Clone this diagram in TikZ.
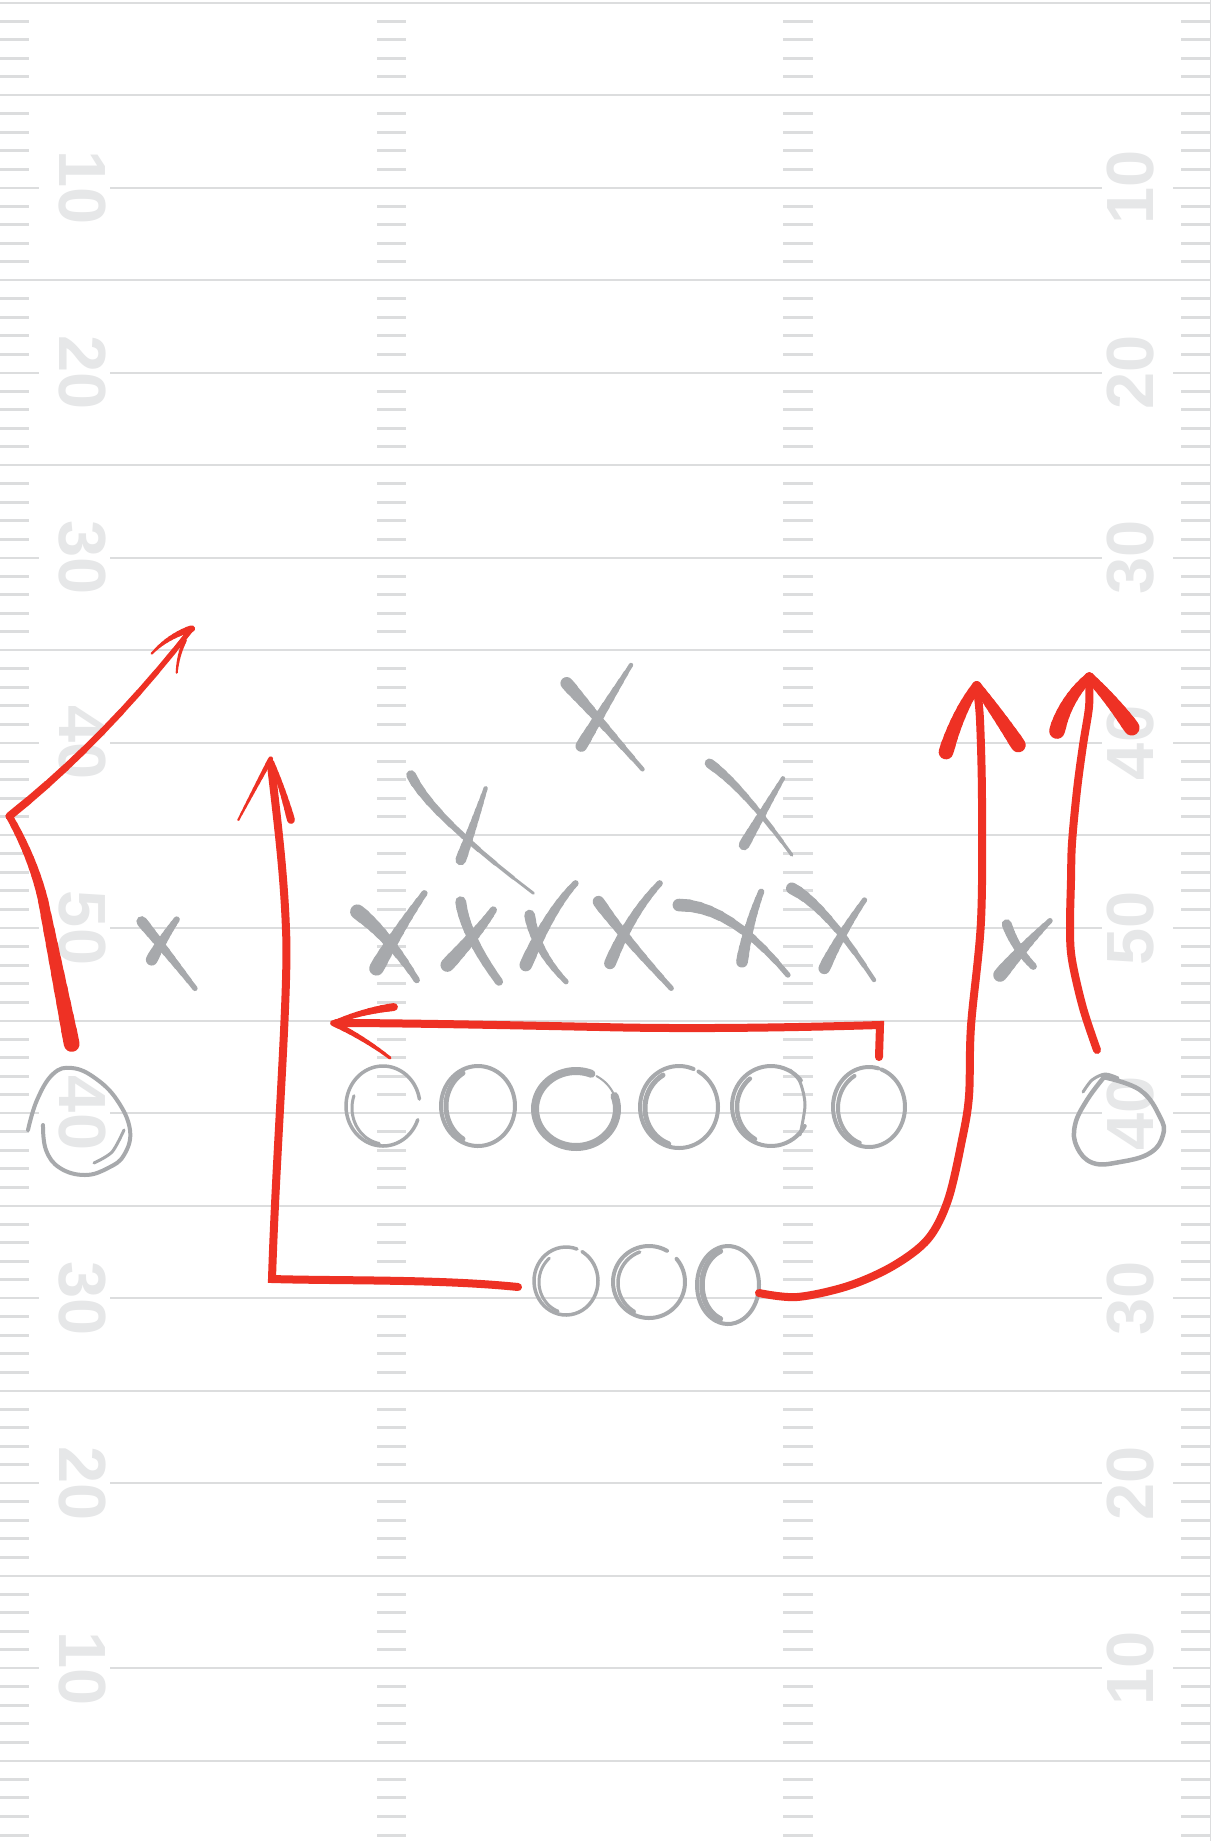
\documentclass[tikz,border=0pt]{standalone}
\usepackage{fontspec}
\setmainfont{Liberation Sans}
\usetikzlibrary{calc}
\definecolor{fieldline}{HTML}{DCDDDE}
\definecolor{numgray}{HTML}{E6E7E8}
\definecolor{player}{HTML}{A7A9AC}
\definecolor{playred}{HTML}{EE3124}
% tapered quadratic brush stroke: x0 y0 cx cy x1 y1 w0 w1
\newcommand\brush[8]{%
  \foreach \bi in {0,...,9}{%
    \pgfmathsetmacro\brTa{\bi/10}%
    \pgfmathsetmacro\brTb{(\bi+1)/10}%
    \pgfmathsetmacro\brXa{(1-\brTa)*(1-\brTa)*(#1)+2*(1-\brTa)*\brTa*(#3)+\brTa*\brTa*(#5)}%
    \pgfmathsetmacro\brYa{(1-\brTa)*(1-\brTa)*(#2)+2*(1-\brTa)*\brTa*(#4)+\brTa*\brTa*(#6)}%
    \pgfmathsetmacro\brXb{(1-\brTb)*(1-\brTb)*(#1)+2*(1-\brTb)*\brTb*(#3)+\brTb*\brTb*(#5)}%
    \pgfmathsetmacro\brYb{(1-\brTb)*(1-\brTb)*(#2)+2*(1-\brTb)*\brTb*(#4)+\brTb*\brTb*(#6)}%
    \pgfmathsetmacro\brW{(#7)+((#8)-(#7))*(\bi+0.5)/10}%
    \draw[line width=\brW bp,line cap=round] (\brXa,\brYa) -- (\brXb,\brYb);
  }%
}
% elliptic loop: cx cy rx ry a0 a1 width
\newcommand\ploop[7]{%
  \draw[line width=#7bp] plot[domain=#5:#6, samples=48, smooth] ({#1+(#3)*cos(\x)},{#2+(#4)*sin(\x)});%
}
\tikzset{
  yard/.style={draw=fieldline, line width=2bp, line cap=butt},
  hash/.style={draw=fieldline, line width=3bp, line cap=butt},
  num/.style={text=numgray, font=\fontsize{67}{67}\selectfont\bfseries, inner sep=0pt},
  route/.style={draw=playred, line width=8bp, line cap=round, line join=round},
}
\begin{document}
\begin{tikzpicture}[x=1bp,y=-1bp, line cap=round, line join=round]
\useasboundingbox (0,0) rectangle (1212,1841);
\fill[white] (0,0) rectangle (1212,1841);

% ---------- field ----------
\foreach \k in {0,1,3,5,7,9,11,13,15,17,19}{
  \draw[yard] (0,{2.5+92.55*\k}) -- (1210,{2.5+92.55*\k});
}
\foreach \k/\t in {2/10,4/20,6/30,8/40,10/50,12/40,14/30,16/20,18/10}{
  \draw[yard] (0,{2.5+92.55*\k}) -- (39,{2.5+92.55*\k})
              (110,{2.5+92.55*\k}) -- (1102,{2.5+92.55*\k})
              (1173,{2.5+92.55*\k}) -- (1210,{2.5+92.55*\k});
  \node[num, rotate=-90] (numL\k) at (82,{2.5+92.55*\k}) {\t};
  \node[num, rotate=90] (numR\k) at (1130.5,{2.5+92.55*\k}) {\t};
}
\foreach \k in {0,...,19}{
  \foreach \j in {1,...,4}{
    \pgfmathsetmacro\hy{2.5+92.55*\k+18.51*\j}
    \draw[hash] (0,\hy) -- (29,\hy) (377,\hy) -- (406,\hy)
                (783,\hy) -- (813,\hy) (1181,\hy) -- (1210,\hy);
  }
}
\draw[fieldline, line width=1.5bp] (1210.5,0) -- (1210.5,1841);

% ---------- defense (X) ----------
\begin{scope}[color=player]
% deep middle
\brush{566.7}{683.3}{592}{712}{642.5}{769.3}{13}{4}
\brush{631}{665}{606}{705}{581.3}{746}{4}{12}
% left linebacker
\brush{411}{775}{430}{815}{533.4}{893.3}{10}{2.5}
\brush{485.6}{788.3}{474}{824}{460.7}{860}{4}{11}
% right linebacker
\brush{709.5}{763.3}{742}{786}{791.8}{855}{10}{3}
\brush{783}{778.3}{763}{812}{744}{845}{4}{11}
% front line
\brush{357.4}{911.7}{388}{935}{416.7}{980}{15}{6}
\brush{424.4}{893.3}{398}{930}{376.5}{968.3}{6}{15}
\brush{460.7}{901.7}{465}{935}{499}{981.7}{11}{8}
\brush{493.3}{910}{480}{930}{447.3}{965}{7}{14}
\brush{529.6}{915}{535}{950}{566}{981.7}{11}{5}
\brush{575.5}{883.3}{550}{910}{525.8}{965}{6}{13}
\brush{598.5}{901.7}{622}{935}{671.2}{988.3}{12}{5}
\brush{659.7}{883.3}{630}{915}{610}{963.3}{6}{12}
\brush{678.9}{905}{730}{905}{787.9}{975}{13}{5}
\brush{761.2}{891.7}{748}{925}{742}{961.7}{6}{12}
\brush{791.8}{888.3}{825}{905}{874}{980}{12}{4}
\brush{864.5}{900}{840}{935}{824.3}{968.3}{5}{12}
% wide left
\brush{141.7}{921.5}{165}{950}{195}{988.4}{11}{5}
\brush{176.7}{919.5}{162}{940}{151.7}{959.7}{6}{12}
% wide right
\brush{1006.7}{924.2}{1015}{948}{1033.3}{966.3}{10}{7}
\brush{1050}{920.7}{1025}{945}{1000}{975}{5}{14}
\end{scope}

% ---------- offense (O) ----------
\begin{scope}[color=player]
% offensive line
\ploop{383}{1106}{37}{40}{20}{350}{3.5}
\ploop{385}{1108}{33}{36}{100}{200}{3}
\ploop{478}{1106}{37}{40}{-80}{285}{4}
\ploop{480}{1106}{34}{38}{120}{240}{5}
\ploop{576}{1109}{41}{38}{-20}{292}{8}
\ploop{576}{1109}{41}{38}{300}{335}{2}
\ploop{679}{1107}{39}{41}{-60}{292}{4}
\ploop{681}{1108}{36}{38}{110}{240}{5}
\ploop{771}{1106}{39}{40}{30}{320}{4}
\ploop{773}{1107}{36}{37}{120}{230}{4.5}
\draw[line width=3bp] plot[smooth] coordinates {(790,1070) (800,1082) (805,1105) (800,1135)};
\ploop{869}{1107}{36}{40}{-70}{285}{4}
\ploop{871}{1108}{33}{37}{110}{240}{4}
% backfield
\ploop{566}{1281}{32}{34}{-60}{290}{3.5}
\ploop{568}{1282}{29}{31}{110}{230}{3}
\ploop{649}{1282}{36}{36}{-40}{300}{4}
\ploop{651}{1283}{33}{33}{120}{250}{3.5}
\ploop{728}{1285}{31}{39}{-70}{290}{4}
\ploop{730}{1285}{28}{36}{110}{250}{5.5}
% left receiver
\draw[line width=4bp] plot[smooth, tension=0.7] coordinates {(28,1130) (37,1100) (53,1074) (72,1068) (95,1078) (117,1100) (130,1130) (124,1155) (108,1168) (85,1175) (60,1168) (46,1150) (43,1125)};
\draw[line width=3bp] plot[smooth] coordinates {(94,1163) (112,1152) (124,1130)};
% right receiver
\draw[line width=4.5bp] plot[smooth, tension=0.7] coordinates {(1103,1077) (1140,1090) (1160,1117) (1163,1135) (1150,1153) (1120,1162) (1093,1163) (1077,1147) (1075,1125) (1087,1100) (1105,1076)};
\draw[line width=3bp] plot[smooth] coordinates {(1083,1092) (1092,1080) (1105,1074) (1118,1078)};
\end{scope}

% ---------- routes ----------
\begin{scope}[color=playred]
% left receiver: up, then diagonal
\brush{71.7}{1044}{58}{975}{43}{900}{16}{10}
\brush{43}{900}{33}{858}{9.3}{816.2}{10}{7}
\brush{9.3}{816.2}{105}{740}{191.7}{628.7}{8}{5}
\brush{191.7}{628.7}{168}{636}{151.7}{653.6}{7}{2}
\brush{185}{640}{178}{655}{176.7}{672.7}{4}{2}
% back: left, then up
\draw[route, line join=miter] (518,1287) .. controls (440,1279) and (340,1281) .. (272,1279)
   .. controls (276,1150) and (289,990) .. (286,930) .. controls (284,870) and (276,810) .. (271,765);
\brush{270.7}{758.8}{254}{790}{238.3}{820}{5}{2}
\brush{272}{762}{283}{790}{291}{820}{4}{8}
% motion across the line
\draw[route, line join=miter] (879,1057) -- (880,1025) .. controls (780,1028) and (680,1029) .. (600,1027)
   .. controls (500,1025) and (400,1023) .. (336,1023);
\brush{333}{1023}{362}{1011}{394}{1007}{4}{8}
\brush{333}{1023}{364}{1038}{390}{1058}{6}{3}
% back: right, then up
\draw[route] plot[smooth, tension=0.55] coordinates {(759,1293) (797,1297) (848,1286) (893,1266) (928,1239) (948,1200) (962,1140) (969,1096) (971,1026) (981,921) (982,800) (980,720) (977,690)};
\brush{976.7}{685.6}{958}{712}{946}{752}{9}{15}
\brush{976.7}{685.6}{998}{714}{1018.3}{745}{9}{15}
% right receiver: up
\draw[route] plot[smooth, tension=0.55] coordinates {(1097,1050) (1083,1008) (1072,960) (1070,928) (1071,880) (1072,843) (1077,790) (1083,745) (1089,707) (1089,682)};
\brush{1089.3}{676.8}{1065}{700}{1057}{731}{9}{16}
\brush{1089.3}{676.8}{1112}{700}{1131.7}{727.7}{9}{16}
\end{scope}
\end{tikzpicture}
\end{document}
